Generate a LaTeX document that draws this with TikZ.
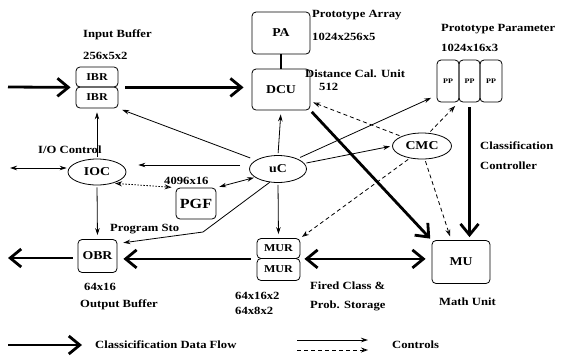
\documentclass[tikz,border=0pt]{standalone}
\usepackage{fontspec}
\setmainfont{Liberation Serif}[FakeStretch=1.15]
\usetikzlibrary{arrows.meta,shapes.geometric,calc}
\begin{document}
\begin{tikzpicture}[x=1pt,y=-1pt,
  txt/.style={font=\bfseries\fontsize{11}{13}\selectfont},
  btxt/.style={font=\bfseries\fontsize{12}{14}\selectfont},
  box/.style={draw,rounded corners=4pt,line width=0.8pt,inner sep=0pt,btxt},
  ell/.style={draw,ellipse,line width=0.8pt,inner sep=0pt,btxt},
  lbl/.style={anchor=west,inner sep=0pt,txt},
  thickarr/.style={line width=2.8pt,-{Straight Barb[length=11pt,width=18pt]}},
  thickdbl/.style={line width=2.8pt,{Straight Barb[length=11pt,width=18pt]}-{Straight Barb[length=11pt,width=18pt]}},
  thinarr/.style={line width=0.8pt,-{Stealth[length=7pt,width=4.5pt]}},
  thindbl/.style={line width=0.8pt,{Stealth[length=7pt,width=4.5pt]}-{Stealth[length=7pt,width=4.5pt]}},
  dasharr/.style={line width=0.8pt,dash pattern=on 4pt off 3pt,-{Stealth[open,length=7pt,width=5pt]}},
  dotdbl/.style={line width=0.8pt,dash pattern=on 1.5pt off 1.5pt,{Stealth[open,length=7pt,width=5pt]}-{Stealth[open,length=7pt,width=5pt]}}
]
\useasboundingbox (0,0) rectangle (561,357);

% boxes
\node[box,minimum width=42pt,minimum height=20pt,font=\bfseries\fontsize{10.5}{12}\selectfont] (ibr1) at (97,77) {IBR};
\node[box,minimum width=42pt,minimum height=21pt,font=\bfseries\fontsize{10.5}{12}\selectfont] (ibr2) at (97,97.5) {IBR};
\node[box,minimum width=58pt,minimum height=42pt] (pa) at (281,33) {\raisebox{-7pt}{PA}};
\node[box,minimum width=58pt,minimum height=41pt] (dcu) at (281,89.5) {DCU};
\node[box,minimum width=22pt,minimum height=42pt,font=\bfseries\fontsize{7}{8}\selectfont] (pp1) at (448,81) {PP};
\node[box,minimum width=21pt,minimum height=42pt,font=\bfseries\fontsize{7}{8}\selectfont] (pp2) at (469.5,81) {PP};
\node[box,minimum width=22pt,minimum height=42pt,font=\bfseries\fontsize{7}{8}\selectfont] (pp3) at (491,81) {PP};
\node[ell,minimum width=58pt,minimum height=26pt] (ioc) at (97,172) {IOC};
\node[ell,minimum width=57pt,minimum height=27pt] (uc) at (278,169) {uC};
\node[ell,minimum width=59pt,minimum height=26pt] (cmc) at (422,146) {CMC};
\node[box,minimum width=40pt,minimum height=31pt,font=\bfseries\fontsize{14}{16}\selectfont] (pgf) at (196,203.5) {PGF};
\node[box,minimum width=39pt,minimum height=33pt] (obr) at (97.5,256) {OBR};
\node[box,minimum width=43pt,minimum height=20pt,font=\bfseries\fontsize{10.5}{12}\selectfont] (mur1) at (278.5,248.5) {MUR};
\node[box,minimum width=43pt,minimum height=22pt,font=\bfseries\fontsize{10.5}{12}\selectfont] (mur2) at (278.5,269.5) {MUR};
\node[box,minimum width=58pt,minimum height=43pt] (mu) at (461,262) {MU};

% labels
\node[lbl] (l1) at (83,35) {Input Buffer};
\node[lbl] (l2) at (83,56) {256x5x2};
\node[lbl] (l3) at (312,15) {Prototype Array};
\node[lbl] (l4) at (312,37) {1024x256x5};
\node[lbl] (l5) at (305,74) {Distance Cal. Unit};
\node[lbl] (l6) at (319,87) {512};
\node[lbl] (l7) at (441,29) {Prototype Parameter};
\node[lbl] (l8) at (441,48) {1024x16x3};
\node[lbl] (l9) at (480,146) {Classification};
\node[lbl] (l10) at (480,166) {Controller};
\node[lbl] (l11) at (38,150) {I/O Control};
\node[lbl] (l12) at (164,181) {4096x16};
\node[lbl] (l13) at (110,229) {Program Sto};
\node[lbl] (l14) at (84,287) {64x16};
\node[lbl] (l15) at (80,305) {Output Buffer};
\node[lbl] (l16) at (235,296) {64x16x2};
\node[lbl] (l17) at (235,311) {64x8x2};
\node[lbl] (l18) at (310,286) {Fired Class \&};
\node[lbl] (l19) at (310,306) {Prob. Storage};
\node[lbl] (l20) at (439,302) {Math Unit};
\node[lbl] (l21) at (95,345) {Classicification Data Flow};
\node[lbl] (l22) at (392,345) {Controls};

% free ends
\coordinate (in0) at (8,87);
\coordinate (out0) at (8,258);
\coordinate (io0) at (10,168);
\coordinate (bend) at (203,232);
\coordinate (lg1a) at (8,345);
\coordinate (lg1b) at (82,345);
\coordinate (lg2a) at (297,340);
\coordinate (lg2b) at (368,340);
\coordinate (lg3a) at (297,350);
\coordinate (lg3b) at (368,350);

% thick data flow
\draw[thickarr,shorten >=5pt] (in0) -- (ibr1.south west);
\draw[thickarr,shorten <=7pt,shorten >=8pt] (ibr1.south east) -- (dcu.west |- ibr1.south east);
\draw[line width=2.8pt] (pa.south) -- (dcu.north);
\draw[thickarr,shorten <=5pt,shorten >=3pt] (pp2.south) -- (pp2.south |- mu.north);
\draw[thickarr,shorten <=2pt,shorten >=2pt] (dcu.south east) -- (mu.north west);
\draw[thickdbl,shorten <=4pt,shorten >=6pt] (mur1.south east) -- (mu.west |- mur1.south east);
\draw[thickarr,shorten <=6pt,shorten >=6pt] (mur1.south west) -- (obr.east |- mur1.south west);
\draw[thickarr,shorten <=5pt] (obr.west |- out0) -- (out0);

% thin controls
\draw[thinarr,shorten <=2pt,shorten >=4pt] (ioc.north) -- (ibr2.south);
\draw[thinarr,shorten <=2pt,shorten >=4pt] (ioc.south) -- (obr.north);
\draw[thindbl,shorten >=1pt] (io0) -- (ioc.west |- io0);
\draw[thinarr,shorten <=6pt,shorten >=4pt] (uc.158) -- (ibr2.south east);
\draw[thinarr,shorten >=6pt] ($(uc.west)+(-9,-4)$) -- ($(ioc.east)+(6,-7)$);
\draw[thinarr,shorten <=2pt,shorten >=4pt] (uc.north) -- (dcu.south);
\draw[thinarr,shorten <=2pt,shorten >=4pt] (uc.south) -- (mur1.north);
\draw[thindbl,shorten <=3pt,shorten >=1pt] (pgf.north east) -- (uc.200);
\draw[dotdbl,shorten <=2pt,shorten >=4pt] (ioc.-35) -- (pgf.north west);
\draw[thinarr,shorten >=6pt] (uc.238) -- (bend) -- (obr.32);
\draw[thinarr,shorten <=3pt,shorten >=6pt] (uc.28) -- ($(pp1.south west)+(0,-7)$);
\draw[thinarr,shorten <=2pt,shorten >=2pt] (uc.12) -- (cmc.west);

% dashed controls
\draw[dasharr,shorten <=2pt,shorten >=3pt] (cmc.155) -- (dcu.-22);
\draw[dasharr,shorten <=2pt,shorten >=5pt] (cmc.62) -- (pp2.south west);
\draw[dasharr,shorten <=2pt,shorten >=4pt] (cmc.-78) -- (mu.114);
\draw[dasharr,shorten <=2pt,shorten >=2pt] (cmc.225) -- (mur1.north east);

% legend
\draw[thickarr] (lg1a) -- (lg1b);
\draw[thinarr] (lg2a) -- (lg2b);
\draw[dasharr] (lg3a) -- (lg3b);
\end{tikzpicture}
\end{document}
